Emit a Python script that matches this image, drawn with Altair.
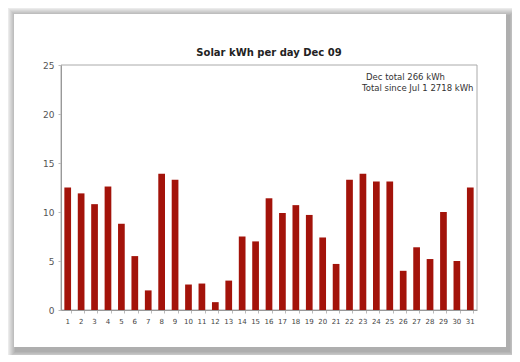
import altair as alt
import pandas as pd

days = [str(d) for d in range(1, 32)]
kwh = [12.5, 11.9, 10.8, 12.6, 8.8, 5.5, 2.0, 13.9, 13.3, 2.6,
       2.7, 0.8, 3.0, 7.5, 7.0, 11.4, 9.9, 10.7, 9.7, 7.4,
       4.7, 13.3, 13.9, 13.1, 13.1, 4.0, 6.4, 5.2, 10.0, 5.0, 12.5]
title_text = "Solar kWh per day Dec 09"
notes = ["Dec total 266 kWh", "Total since Jul 1 2718 kWh"]

df = pd.DataFrame({"day": days, "kwh": kwh})
one = pd.DataFrame({"a": [0]})

W, H = 416, 245

# decorative card with soft blurred shadow (pixel offsets relative to plot area)
shadow_layers = []
for k in range(1, 10):
    shadow_layers.append(
        alt.Chart(one).mark_rect(color="#000000", opacity=0.04).encode(
            x=alt.value(-47 + 2 - k), x2=alt.value(445 + 3 + k),
            y=alt.value(-51 + 2 - k), y2=alt.value(282 + 4 + k)
        )
    )
card = alt.Chart(one).mark_rect(color="#ffffff").encode(
    x=alt.value(-47), x2=alt.value(445), y=alt.value(-51), y2=alt.value(282)
)
frame = alt.Chart(one).mark_rect(fill=None, stroke="#aaaaaa", strokeWidth=1).encode(
    x=alt.value(0), x2=alt.value(W), y=alt.value(0), y2=alt.value(H)
)

bars = alt.Chart(df).mark_bar(color="#a3130a").encode(
    x=alt.X("day:N", sort=days, title=None,
            scale=alt.Scale(paddingInner=0.5, paddingOuter=0.25),
            axis=alt.Axis(labelAngle=0, labelFontSize=7, labelColor="#444444",
                          domainColor="#999999", tickColor="#bbbbbb", tickSize=3,
                          labelPadding=4, bandPosition=1, zindex=1)),
    y=alt.Y("kwh:Q", title=None,
            scale=alt.Scale(domain=[0, 25], nice=False),
            axis=alt.Axis(values=[0, 5, 10, 15, 20, 25], grid=False, labelFontSize=9,
                          labelColor="#555555", domainColor="#999999",
                          tickColor="#bbbbbb", tickSize=3, labelPadding=4, zindex=1)),
)

title = alt.Chart(pd.DataFrame({"t": [title_text]})).mark_text(
    align="center", baseline="alphabetic", fontSize=10, fontWeight="bold",
    font="DejaVu Sans", color="#222222").encode(
    x=alt.value(W / 2), y=alt.value(-9), text="t:N")

note1 = alt.Chart(pd.DataFrame({"t": [notes[0]]})).mark_text(
    align="left", baseline="middle", fontSize=8.5, color="#333333",
    font="DejaVu Sans").encode(x=alt.value(305), y=alt.value(12), text="t:N")
note2 = alt.Chart(pd.DataFrame({"t": [notes[1]]})).mark_text(
    align="left", baseline="middle", fontSize=8.5, color="#333333",
    font="DejaVu Sans").encode(x=alt.value(301), y=alt.value(23), text="t:N")

chart = alt.layer(*shadow_layers, card, frame, bars, title, note1, note2).properties(
    width=W, height=H,
    autosize=alt.AutoSizeParams(type="none"),
    padding={"left": 53, "top": 57, "right": 35, "bottom": 45},
).configure_view(strokeWidth=0).configure(background="#ffffff") \
 .configure_axis(labelFont="DejaVu Sans")

chart.save("out.html", embed_options={"renderer": "svg", "actions": False})
